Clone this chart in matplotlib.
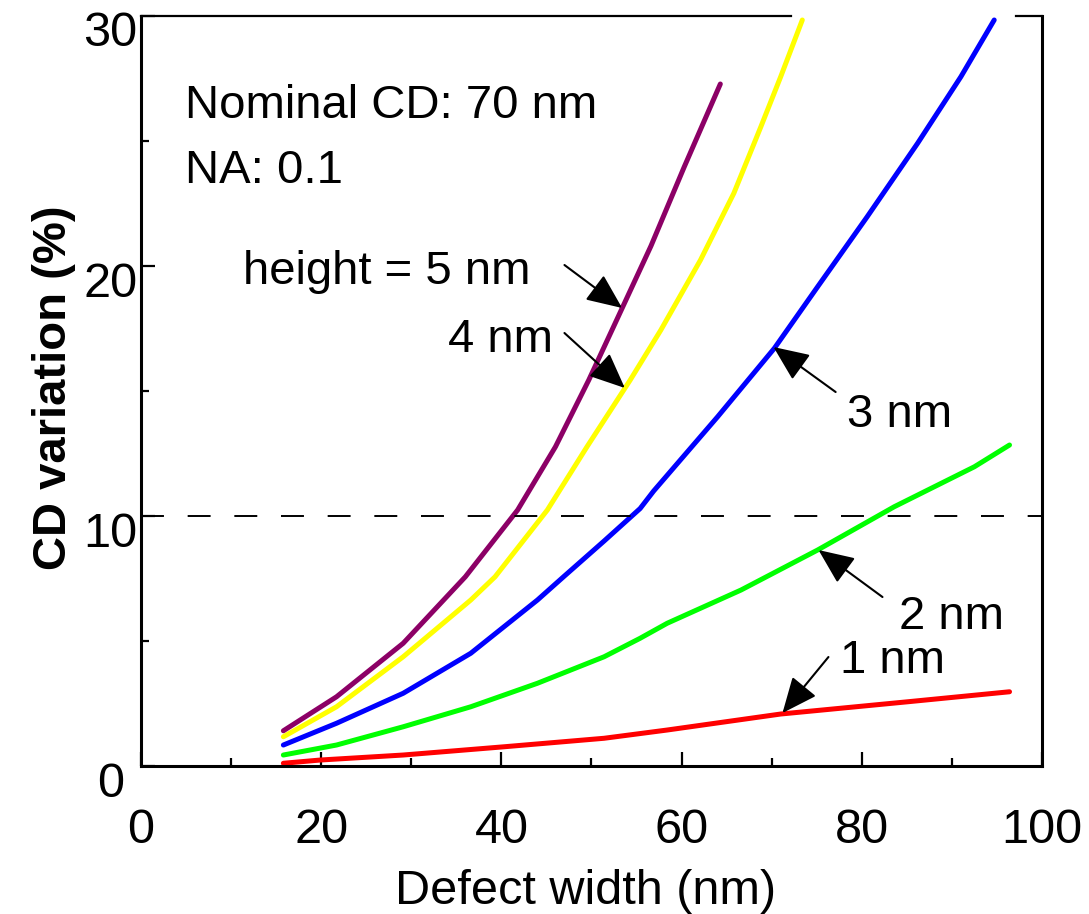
import matplotlib
matplotlib.use('Agg')
import matplotlib.pyplot as plt
from matplotlib.transforms import ScaledTranslation
from matplotlib.ticker import MultipleLocator

plt.rcParams['font.family'] = ['Liberation Sans', 'DejaVu Sans']

# CD variation (%) vs defect width (nm)
x_5nm = [15.8, 21.7, 29.1, 36.0, 41.8, 46.0, 49.7, 53.0, 56.6, 60.3, 64.3]
y_5nm = [1.41, 2.77, 4.91, 7.57, 10.24, 12.77, 15.44, 18.0, 20.8, 23.97, 27.28]

x_4nm = [15.8, 21.7, 29.1, 36.6, 39.3, 45.1, 49.5, 54.3, 57.7, 62.1, 65.8, 68.8, 71.0, 73.4]
y_4nm = [1.17, 2.37, 4.37, 6.64, 7.57, 10.24, 12.77, 15.44, 17.44, 20.24, 22.91, 25.57, 27.57, 29.84]

x_3nm = [15.8, 21.7, 29.1, 36.6, 44.0, 46.9, 51.4, 55.4, 56.9, 64.0, 70.3, 75.1, 80.6, 86.2, 91.0, 94.7]
y_3nm = [0.84, 1.71, 2.91, 4.51, 6.64, 7.57, 9.0, 10.3, 11.0, 13.97, 16.71, 19.17, 21.97, 24.91, 27.57, 29.84]

x_2nm = [15.8, 21.7, 29.1, 36.6, 44.0, 51.4, 55.4, 58.4, 66.6, 75.1, 83.6, 92.5, 96.4]
y_2nm = [0.44, 0.84, 1.57, 2.37, 3.31, 4.37, 5.11, 5.71, 7.04, 8.64, 10.37, 11.97, 12.84]

x_1nm = [15.8, 19.9, 29.1, 40.3, 51.4, 58.4, 71.0, 85.1, 96.4]
y_1nm = [0.11, 0.24, 0.44, 0.77, 1.11, 1.44, 2.08, 2.57, 2.97]

limit = 10

labels = ['height = 5 nm', '4 nm', '3 nm', '2 nm', '1 nm']
label_pos = [(11.3, 19.28), (34.1, 16.56), (78.4, 13.56), (84.1, 5.48), (77.6, 3.72)]
arrow_tail = [(47.0, 20.04), (47.0, 17.32), (77.1, 14.96), (82.3, 6.76), (76.3, 4.36)]
arrow_tip = [(53.4, 18.32), (53.7, 15.12), (70.2, 16.76), (75.2, 8.64), (71.2, 2.12)]

fig = plt.figure(figsize=(10.89, 9.14), dpi=100)
ax = fig.add_axes([0.1295, 0.1619, 0.8273, 0.8206])

lw = 3.6
ax.plot(x_1nm, y_1nm, color='#ff0000', lw=lw, solid_capstyle='round')
ax.plot(x_2nm, y_2nm, color='#00ff00', lw=lw, solid_capstyle='round')
ax.plot(x_3nm, y_3nm, color='#0000ff', lw=lw, solid_capstyle='round')
ax.plot(x_4nm, y_4nm, color='#ffff00', lw=lw, solid_capstyle='round')
ax.plot(x_5nm, y_5nm, color='#8c0066', lw=lw, solid_capstyle='round')

ax.axhline(limit, color='black', lw=1.4, linestyle=(0, (11.8, 12.2)))

ax.set_xlim(0, 100)
ax.set_ylim(0, 30)

# frame: top edge is broken where the curves leave the box
for s in ['left', 'bottom', 'right']:
    ax.spines[s].set_linewidth(2.2)
ax.spines['top'].set_visible(False)
ax.axhline(30, xmin=0, xmax=0.721, color='black', lw=1.6, clip_on=False)
ax.axhline(30, xmin=0.971, xmax=1, color='black', lw=1.6, clip_on=False)

ax.xaxis.set_major_locator(MultipleLocator(20))
ax.xaxis.set_minor_locator(MultipleLocator(10))
ax.yaxis.set_major_locator(MultipleLocator(10))
ax.yaxis.set_minor_locator(MultipleLocator(5))
ax.tick_params(which='both', direction='in', width=1.6, labelsize=35)
ax.tick_params(which='major', length=10)
ax.tick_params(which='minor', length=6)
ax.tick_params(axis='x', pad=30)
ax.tick_params(axis='y', pad=22)

shift = ScaledTranslation(0, -0.13, fig.dpi_scale_trans)
for t in ax.get_yticklabels():
    t.set_horizontalalignment('center')
    t.set_transform(t.get_transform() + shift)

ax.set_xlabel('Defect width (nm)', fontsize=35)
ax.xaxis.set_label_coords(0.493, -0.137)
ax.set_ylabel('CD variation (%)', fontsize=34, fontweight='bold')
ax.yaxis.set_label_coords(-0.072, 0.505)

ax.text(4.9, 25.92, 'Nominal CD: 70 nm', fontsize=34, va='baseline')
ax.text(4.9, 23.32, 'NA: 0.1', fontsize=34, va='baseline')

for lab, pos, tail, tip in zip(labels, label_pos, arrow_tail, arrow_tip):
    ax.text(pos[0], pos[1], lab, fontsize=34, va='baseline')
    ax.annotate('', xy=tip, xytext=tail,
                arrowprops=dict(arrowstyle='-|>,head_length=1.1,head_width=0.48',
                                mutation_scale=20, color='black', lw=1.5,
                                shrinkA=0, shrinkB=0))

fig.savefig('out.png', dpi=100, facecolor='white')
